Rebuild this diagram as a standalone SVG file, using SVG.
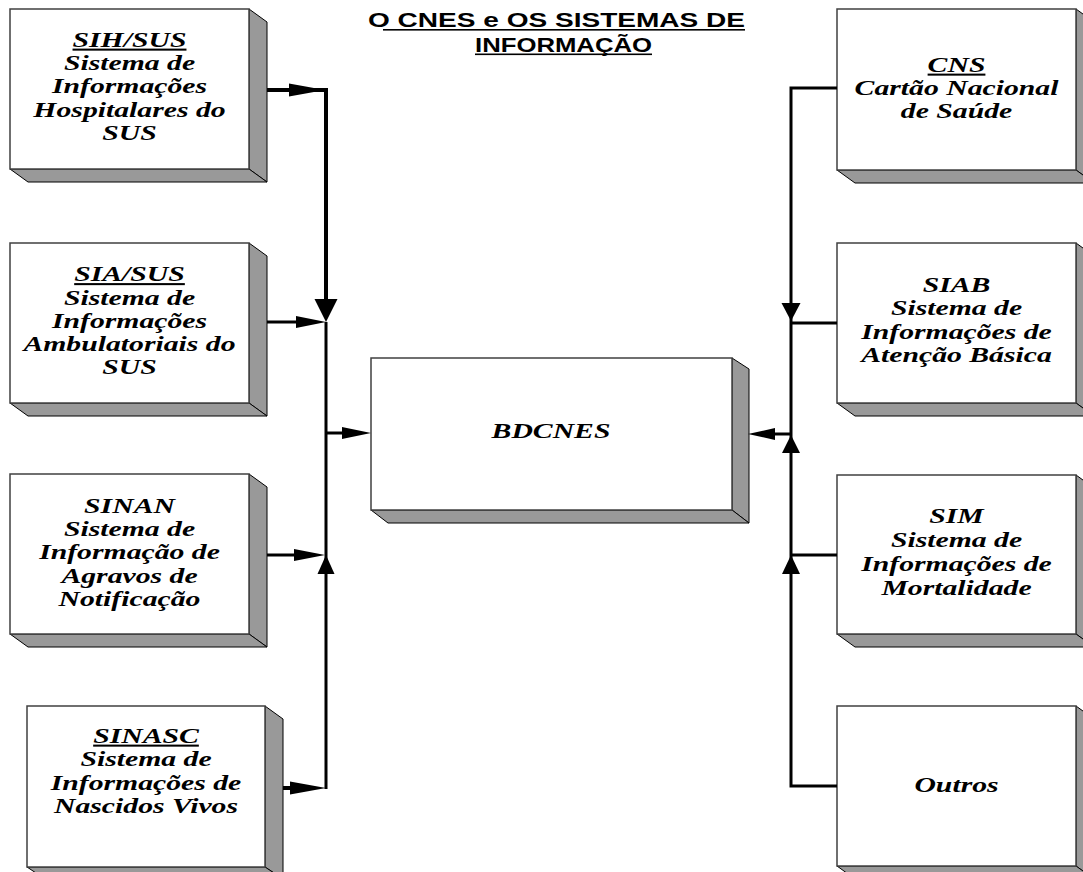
<svg xmlns="http://www.w3.org/2000/svg" width="1083" height="872" viewBox="0 0 1083 872">
<style>
.front{fill:#fff;stroke:#404040;stroke-width:1.5}
.shade{fill:#999;stroke:#000;stroke-width:1;stroke-linejoin:round}
.lbl{font-family:"Liberation Serif","Times New Roman",serif;font-weight:bold;font-style:italic;font-size:20.5px;text-anchor:middle;fill:#000}
.u{text-decoration:underline}
.title{font-family:"Liberation Sans",Arial,sans-serif;font-weight:bold;font-size:20px;fill:#000}
.ln{fill:none;stroke:#000;stroke-width:3;stroke-linecap:butt;stroke-linejoin:miter}
.thick{stroke-width:4}
.head{fill:#000;stroke:none}
</style>
<rect width="1083" height="872" fill="#fff"/>
<g id="title">
<text class="title" x="368" y="27" textLength="377" lengthAdjust="spacingAndGlyphs">O CNES e OS SISTEMAS DE</text>
<text class="title" x="475" y="52" textLength="177" lengthAdjust="spacingAndGlyphs">INFORMAÇÃO</text>
<rect x="383" y="29" width="362" height="1.6" fill="#000"/>
<rect x="475" y="53.5" width="177" height="1.6" fill="#000"/>
</g>
<g id="sihsus">
<polygon class="shade" points="249,9 267,22 267,182 249,169"/>
<polygon class="shade" points="10,169 249,169 267,182 28,182"/>
<rect class="front" x="10" y="9" width="239" height="160"/>
<g transform="translate(129.5,0) scale(1.45,1)">
<text class="lbl" x="0" y="47"><tspan class="u">SIH/SUS</tspan></text>
<text class="lbl" x="0" y="70.2">Sistema de</text>
<text class="lbl" x="0" y="93.4">Informações</text>
<text class="lbl" x="0" y="116.6">Hospitalares do</text>
<text class="lbl" x="0" y="139.8">SUS</text>
</g>
</g>
<g id="siasus">
<polygon class="shade" points="249,243 267,256 267,416 249,403"/>
<polygon class="shade" points="10,403 249,403 267,416 28,416"/>
<rect class="front" x="10" y="243" width="239" height="160"/>
<g transform="translate(129.5,0) scale(1.45,1)">
<text class="lbl" x="0" y="281.5"><tspan class="u">SIA/SUS</tspan></text>
<text class="lbl" x="0" y="304.7">Sistema de</text>
<text class="lbl" x="0" y="327.9">Informações</text>
<text class="lbl" x="0" y="351.1">Ambulatoriais do</text>
<text class="lbl" x="0" y="374.3">SUS</text>
</g>
</g>
<g id="sinan">
<polygon class="shade" points="249,474 267,487 267,647 249,634"/>
<polygon class="shade" points="10,634 249,634 267,647 28,647"/>
<rect class="front" x="10" y="474" width="239" height="160"/>
<g transform="translate(129.5,0) scale(1.45,1)">
<text class="lbl" x="0" y="513">SINAN</text>
<text class="lbl" x="0" y="536.2">Sistema de</text>
<text class="lbl" x="0" y="559.4">Informação de</text>
<text class="lbl" x="0" y="582.6">Agravos de</text>
<text class="lbl" x="0" y="605.8">Notificação</text>
</g>
</g>
<g id="sinasc">
<polygon class="shade" points="265,706 283,719 283,879 265,867"/>
<polygon class="shade" points="27,867 265,867 283,879 45,879"/>
<rect class="front" x="27" y="706" width="238" height="161"/>
<g transform="translate(146,0) scale(1.45,1)">
<text class="lbl" x="0" y="743"><tspan class="u">SINASC</tspan></text>
<text class="lbl" x="0" y="766.3">Sistema de</text>
<text class="lbl" x="0" y="789.6">Informações de</text>
<text class="lbl" x="0" y="812.9">Nascidos Vivos</text>
</g>
</g>
<g id="cns">
<polygon class="shade" points="1076,9 1094,22 1094,183 1076,170"/>
<polygon class="shade" points="837,170 1076,170 1094,183 855,183"/>
<rect class="front" x="837" y="9" width="239" height="161"/>
<g transform="translate(956.5,0) scale(1.45,1)">
<text class="lbl" x="0" y="72"><tspan class="u">CNS</tspan></text>
<text class="lbl" x="0" y="95.2">Cartão Nacional</text>
<text class="lbl" x="0" y="118.4">de Saúde</text>
</g>
</g>
<g id="siab">
<polygon class="shade" points="1076,243 1094,256 1094,416 1076,403"/>
<polygon class="shade" points="837,403 1076,403 1094,416 855,416"/>
<rect class="front" x="837" y="243" width="239" height="160"/>
<g transform="translate(956.5,0) scale(1.45,1)">
<text class="lbl" x="0" y="292">SIAB</text>
<text class="lbl" x="0" y="315.5">Sistema de</text>
<text class="lbl" x="0" y="339">Informações de</text>
<text class="lbl" x="0" y="362.5">Atenção Básica</text>
</g>
</g>
<g id="sim">
<polygon class="shade" points="1076,475 1094,488 1094,647 1076,634"/>
<polygon class="shade" points="837,634 1076,634 1094,647 855,647"/>
<rect class="front" x="837" y="475" width="239" height="159"/>
<g transform="translate(956.5,0) scale(1.45,1)">
<text class="lbl" x="0" y="523">SIM</text>
<text class="lbl" x="0" y="547">Sistema de</text>
<text class="lbl" x="0" y="571">Informações de</text>
<text class="lbl" x="0" y="595">Mortalidade</text>
</g>
</g>
<g id="outros">
<polygon class="shade" points="1076,706 1094,719 1094,879 1076,866"/>
<polygon class="shade" points="837,866 1076,866 1094,879 855,879"/>
<rect class="front" x="837" y="706" width="239" height="160"/>
<g transform="translate(956.5,0) scale(1.45,1)">
<text class="lbl" x="0" y="792">Outros</text>
</g>
</g>
<g id="bdcnes">
<polygon class="shade" points="732,358 749,369 749,523 732,510"/>
<polygon class="shade" points="371,510 732,510 749,523 388,523"/>
<rect class="front" x="371" y="358" width="361" height="152"/>
<g transform="translate(551,0) scale(1.45,1)">
<text class="lbl" x="0" y="438">BDCNES</text>
</g>
</g>
<g id="connectors">
<polyline class="ln thick" points="267,90 326,90 326,305"/>
<polygon class="head" points="289,83.5 325,90 289,96.5"/>
<polygon class="head" points="314.5,299 337.5,299 326,322"/>
<line class="ln" x1="267" y1="322" x2="300" y2="322"/>
<polygon class="head" points="296,316 326,322 296,328"/>
<line class="ln" x1="326" y1="322" x2="326" y2="789"/>
<line class="ln" x1="326" y1="433" x2="345" y2="433"/>
<polygon class="head" points="342,427 371,433 342,439"/>
<line class="ln" x1="267" y1="555" x2="298" y2="555"/>
<polygon class="head" points="294,549 325,555 294,561"/>
<polygon class="head" points="317.5,574 334.5,574 326,555"/>
<line class="ln thick" x1="283" y1="788" x2="300" y2="788"/>
<polygon class="head" points="290,781.5 326,788 290,794.5"/>
<polyline class="ln" points="837,88 791,88 791,786 837,786"/>
<polygon class="head" points="781.5,303 800.5,303 791,321"/>
<line class="ln" x1="791" y1="323" x2="837" y2="323"/>
<line class="ln" x1="791" y1="434" x2="772" y2="434"/>
<polygon class="head" points="775,428 748,434 775,440"/>
<polygon class="head" points="782,453 800,453 791,435"/>
<line class="ln" x1="791" y1="555" x2="837" y2="555"/>
<polygon class="head" points="782,574 800,574 791,555"/>
</g>
</svg>
